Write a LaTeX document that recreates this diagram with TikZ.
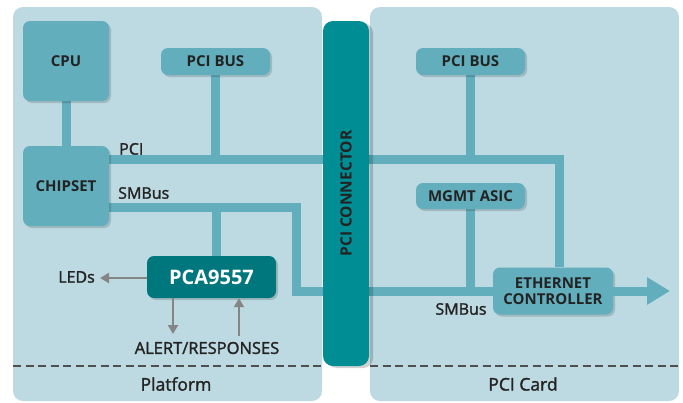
\documentclass[tikz,border=0pt]{standalone}
\usepackage{fontspec}
\setmainfont{Open Sans}
\newfontfamily\medfont{Open Sans}[FakeBold=1.6]
\usetikzlibrary{shadows,arrows.meta}
\definecolor{panelc}{HTML}{BDD9E1}
\definecolor{boxc}{HTML}{62AEBC}
\definecolor{connc}{HTML}{008D94}
\definecolor{pcac}{HTML}{00777D}
\definecolor{txtc}{HTML}{232323}
\definecolor{arrc}{HTML}{858585}
\pgfdeclarelayer{panels}
\pgfdeclarelayer{lines}
\pgfsetlayers{panels,lines,main}
\begin{document}
\begin{tikzpicture}[x=1pt,y=-1pt,
  panel/.style={fill=panelc,rounded corners=10pt},
  blk/.style={fill=boxc,rounded corners=7pt,inner sep=0pt,align=center,
    text=txtc,font=\fontsize{15}{17}\selectfont\bfseries,
    drop shadow={shadow xshift=2pt,shadow yshift=-2pt,opacity=0.15,fill=black}},
  bus/.style={draw=boxc,line width=9pt},
  garrow/.style={draw=arrc,line width=2pt,-{Triangle[length=9pt,width=10pt]}},
  lbl/.style={text=txtc,font=\medfont\fontsize{16}{18}\selectfont,inner sep=0pt},
  sep/.style={draw=txtc!80,line width=1.2pt,dash pattern=on 8pt off 4.5pt}]
\useasboundingbox (0,0) rectangle (683,402);
\begin{pgfonlayer}{panels}
\fill[white] (0,0) rectangle (683,402);
\path[panel] (13,7) rectangle (322,401);
\path[panel] (370,7) rectangle (679,401);
\draw[sep] (13,366) -- (322,366);
\draw[sep] (370,366) -- (679,366);
\end{pgfonlayer}
\node[lbl,font=\medfont\fontsize{17.5}{19}\selectfont] (platform) at (176,384) {Platform};
\node[lbl,font=\medfont\fontsize{17.5}{19}\selectfont] (pcicard) at (523,384) {PCI Card};
% coordinates
\coordinate (pcicorner) at (559,159.5);
\coordinate (smbend) at (296,207.5);
\coordinate (pcadrop) at (216.5,207.5);
\coordinate (arrowend) at (670,291);
\coordinate (alertdn) at (173,334);
\coordinate (respup) at (239,336);
\coordinate (ledtip) at (100,278);
% blocks
\node[blk,minimum width=86pt,minimum height=80pt] (cpu) at (66,61) {CPU};
\node[blk,minimum width=86pt,minimum height=80pt] (chipset) at (66,186) {CHIPSET};
\node[blk,minimum width=109pt,minimum height=27pt] (pcibusl) at (215.5,61.5) {PCI BUS};
\node[blk,minimum width=109pt,minimum height=27pt] (pcibusr) at (470.5,61.5) {PCI BUS};
\node[blk,minimum width=109pt,minimum height=26pt] (mgmt) at (470.5,196) {MGMT ASIC};
\node[blk,minimum width=120pt,minimum height=47pt,font=\fontsize{15}{16}\selectfont\bfseries] (ether) at (553,291) {ETHERNET\\CONTROLLER};
\node[blk,fill=pcac,text=white,minimum width=129pt,minimum height=42pt,font=\fontsize{20}{22}\selectfont\bfseries] (pca) at (211.5,277) {PCA9557};
% connector
\node[fill=connc,rounded corners=10pt,minimum width=46pt,minimum height=345pt,inner sep=0pt,
  drop shadow={shadow xshift=4pt,shadow yshift=-2pt,opacity=0.18,fill=black}] (conn) at (346,193.5) {};
\node[rotate=90,text=txtc,font=\fontsize{15.5}{17}\selectfont\bfseries,inner sep=0pt] (connlbl) at (conn.center) {PCI CONNECTOR};
% buses
\begin{pgfonlayer}{lines}
\draw[bus] (cpu.south) -- (chipset.north);
\draw[bus] (chipset.east |- pcicorner) -- (pcicorner) -- (ether.north -| pcicorner);
\draw[bus] (pcibusl.south) -- (pcibusl.south |- pcicorner);
\draw[bus] (pcibusr.south) -- (pcibusr.south |- pcicorner);
\draw[bus] (chipset.east |- smbend) -- (smbend) |- (ether.west);
\draw[bus] (pcadrop) -- (pcadrop |- pca.north);
\draw[bus] (mgmt.south) -- (mgmt.south |- ether.west);
\end{pgfonlayer}
\draw[bus,-{Triangle[length=23pt,width=26pt]}] (ether.east) -- (arrowend);
% labels
\node[lbl,anchor=south west] (pcilbl) at (119,155) {PCI};
\node[lbl,anchor=west] (smblbl) at (118,193) {SMBus};
\node[lbl] (smbrlbl) at (461,309) {SMBus};
\node[lbl,anchor=east] (leds) at (95,277) {LEDs};
\node[lbl,font=\medfont\fontsize{16.5}{18}\selectfont] (alert) at (207,348) {ALERT/RESPONSES};
% gray arrows
\draw[garrow] (pca.west |- ledtip) -- (ledtip);
\draw[garrow] (pca.south -| alertdn) -- (alertdn);
\draw[garrow] (respup) -- (pca.south -| respup);
\end{tikzpicture}
\end{document}
